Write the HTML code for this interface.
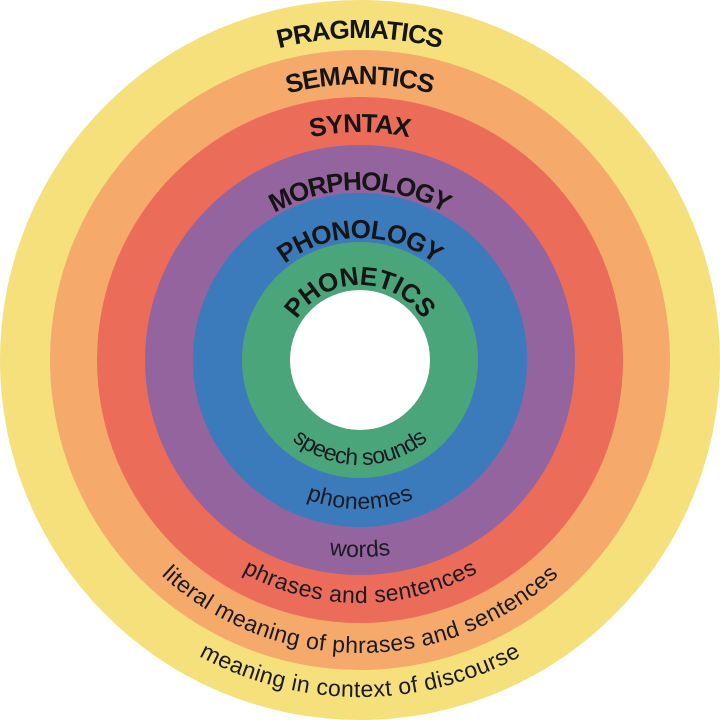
<!DOCTYPE html>
<html><head><meta charset="utf-8"><style>
html,body{margin:0;padding:0;background:#fff;}
svg{display:block;}
.t{font-family:"Liberation Sans",sans-serif;font-weight:bold;font-size:26px;fill:#151515;}
.b{font-family:"Liberation Sans",sans-serif;font-size:23px;fill:#1a1a24;}
</style></head><body>
<svg width="720" height="720" viewBox="0 0 720 720" xmlns="http://www.w3.org/2000/svg">
<circle cx="360" cy="360" r="360" fill="#f5e07c"/>
<circle cx="360" cy="360" r="310" fill="#f5aa6c"/>
<circle cx="360" cy="360" r="263" fill="#ec6c5a"/>
<circle cx="360" cy="360" r="215" fill="#94649e"/>
<circle cx="360" cy="360" r="167" fill="#3b7bbb"/>
<circle cx="360" cy="360" r="118" fill="#4ba57a"/>
<circle cx="360" cy="360" r="70" fill="#ffffff"/>
<defs>
<path id="t1" d="M38,360 A322,322 0 0 1 682,360"/>
<path id="t2" d="M84,360 A276,276 0 0 1 636,360"/>
<path id="t3" d="M132,360 A228,228 0 0 1 588,360"/>
<path id="t4" d="M190,360 A170,170 0 0 1 530,360"/>
<path id="t5" d="M238,360 A122,122 0 0 1 482,360"/>
<path id="t6" d="M285,360 A75,75 0 0 1 435,360"/>
<path id="b1" d="M255,360 A105,105 0 0 0 465,360"/>
<path id="b2" d="M211,360 A149,149 0 0 0 509,360"/>
<path id="b3" d="M163,360 A197,197 0 0 0 557,360"/>
<path id="b4" d="M117,360 A243,243 0 0 0 603,360"/>
<path id="b5" d="M67,360 A293,293 0 0 0 653,360"/>
<path id="b6" d="M23,360 A337,337 0 0 0 697,360"/>
</defs>
<text class="t"><textPath href="#t1" startOffset="50%" text-anchor="middle" textLength="164" lengthAdjust="spacing">PRAGMATICS</textPath></text>
<text class="t"><textPath href="#t2" startOffset="50%" text-anchor="middle" textLength="146" lengthAdjust="spacing">SEMANTICS</textPath></text>
<text class="t"><textPath href="#t3" startOffset="50%" text-anchor="middle" textLength="99" lengthAdjust="spacing">SYNTAX</textPath></text>
<text class="t"><textPath href="#t4" startOffset="50%" text-anchor="middle" textLength="179" lengthAdjust="spacing">MORPHOLOGY</textPath></text>
<text class="t"><textPath href="#t5" startOffset="50%" text-anchor="middle" textLength="162" lengthAdjust="spacing">PHONOLOGY</textPath></text>
<text class="t"><textPath href="#t6" startOffset="50%" text-anchor="middle" textLength="150" lengthAdjust="spacing">PHONETICS</textPath></text>
<text class="b"><textPath href="#b1" startOffset="50%" text-anchor="middle" textLength="148" lengthAdjust="spacing">speech sounds</textPath></text>
<text class="b"><textPath href="#b2" startOffset="50%" text-anchor="middle" textLength="110" lengthAdjust="spacing">phonemes</textPath></text>
<text class="b"><textPath href="#b3" startOffset="50%" text-anchor="middle" textLength="62" lengthAdjust="spacing">words</textPath></text>
<text class="b"><textPath href="#b4" startOffset="50%" text-anchor="middle" textLength="246" lengthAdjust="spacing">phrases and sentences</textPath></text>
<text class="b"><textPath href="#b5" startOffset="50%" text-anchor="middle" textLength="437" lengthAdjust="spacing">literal meaning of phrases and sentences</textPath></text>
<text class="b"><textPath href="#b6" startOffset="50%" text-anchor="middle" textLength="336" lengthAdjust="spacing">meaning in context of discourse</textPath></text>
</svg>
</body></html>
